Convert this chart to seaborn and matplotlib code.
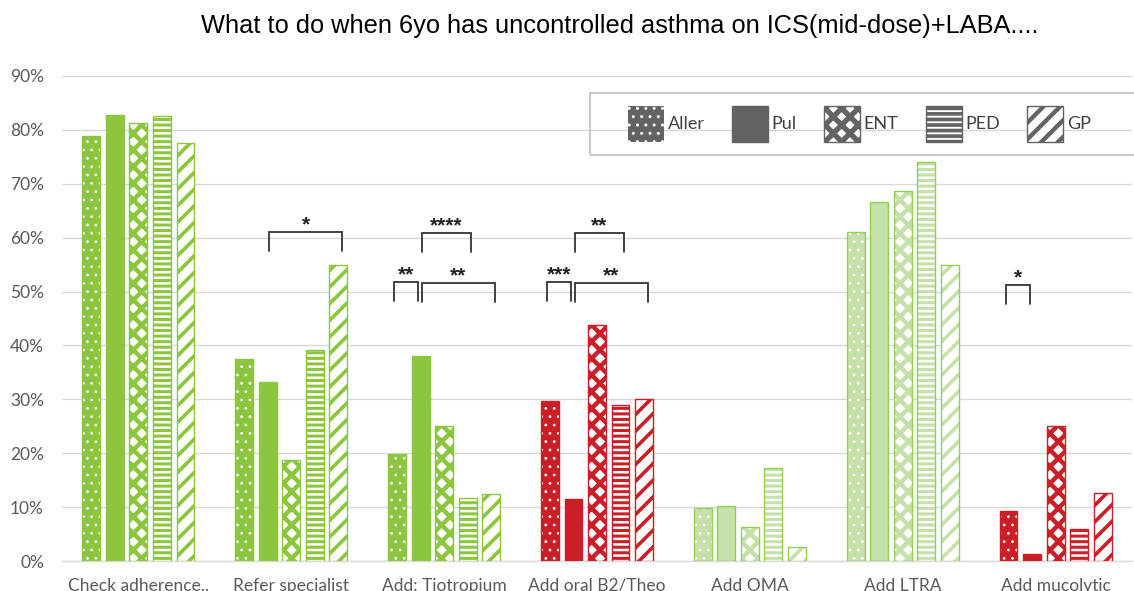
import matplotlib
matplotlib.use("Agg")
import matplotlib.pyplot as plt
import matplotlib.patches as mpatches
import seaborn as sns
import pandas as pd

# ---------------- data ----------------
categories = ["Check adherence..", "Refer specialist", "Add: Tiotropium",
              "Add oral B2/Theo", "Add OMA", "Add LTRA", "Add mucolytic"]
groups = ["Aller", "Pul", "ENT", "PED", "GP"]

aller = [78.8, 37.5, 19.8, 29.6, 9.8, 61.0, 9.2]
pul   = [82.7, 33.3, 38.0, 11.5, 10.2, 66.7, 1.3]
ent   = [81.2, 18.8, 25.0, 43.8, 6.3, 68.7, 25.1]
ped   = [82.6, 39.1, 11.6, 29.0, 17.3, 74.0, 5.9]
gp    = [77.5, 55.0, 12.5, 30.0, 2.6, 55.0, 12.6]

title = "What to do when 6yo has uncontrolled asthma on ICS(mid-dose)+LABA...."

# significance brackets: (category index, group a, group b, height %, label)
brackets = [
    (1, "Pul", "GP", 61.0, "*"),
    (2, "Pul", "PED", 60.8, "****"),
    (2, "Aller", "Pul", 51.8, "**"),
    (2, "Pul", "GP", 51.6, "**"),
    (3, "Pul", "PED", 60.8, "**"),
    (3, "Aller", "Pul", 51.8, "***"),
    (3, "Pul", "GP", 51.6, "**"),
    (6, "Aller", "Pul", 51.2, "*"),
]

# ---------------- styles ----------------
GREEN = "#8CC63F"
RED = "#CC1E26"
LGREEN = "#C5E0A8"
LEDGE = "#92D050"
cat_fill = [GREEN, GREEN, GREEN, RED, LGREEN, LGREEN, RED]
cat_edge = [GREEN, GREEN, GREEN, RED, LEDGE, LEDGE, RED]
group_hatch = {"Aller": "..", "Pul": None, "ENT": "xx", "PED": "---", "GP": "//"}
hatch_lw = {"Aller": 0.8, "Pul": 1.0, "ENT": 3.2, "PED": 2.2, "GP": 2.6}

TICK_FONT = ["Lato", "DejaVu Sans"]
TITLE_FONT = ["Liberation Sans", "DejaVu Sans"]

sns.set_theme(style="white")
plt.rcParams["font.family"] = TICK_FONT
plt.rcParams["hatch.linewidth"] = 2.4

vals = {"Aller": aller, "Pul": pul, "ENT": ent, "PED": ped, "GP": gp}
rows = []
for g in groups:
    for c, v in zip(categories, vals[g]):
        rows.append({"category": c, "group": g, "value": v / 100.0})
df = pd.DataFrame(rows)

fig = plt.figure(figsize=(11.34, 5.91), dpi=100)
ax = fig.add_axes([62 / 1134, 30 / 591, (1132 - 62) / 1134, (561 - 76) / 591])

sns.barplot(data=df, x="category", y="value", hue="group", order=categories,
            hue_order=groups, width=0.77, gap=0.24, ax=ax, legend=False,
            errorbar=None, saturation=1)

ax.set_ylim(0, 0.9)
ax.set_xlim(-0.5, len(categories) - 0.5)


def set_hlw(p, lw):
    if hasattr(p, "set_hatch_linewidth"):
        p.set_hatch_linewidth(lw)
    else:
        p._hatch_linewidth = lw
    return p


def hatch_rect(xy, w, h, hatch, color, lw):
    with plt.rc_context({"hatch.linewidth": lw}):
        r = mpatches.Rectangle(xy, w, h, fill=False, hatch=hatch,
                               edgecolor=color, linewidth=0, zorder=3.5)
    return set_hlw(r, lw)


bar_pos = {}
for gi, (g, cont) in enumerate(zip(groups, ax.containers)):
    h = group_hatch[g]
    for ci, bar in enumerate(cont.patches):
        fc, ec = cat_fill[ci], cat_edge[ci]
        bar.set_zorder(3)
        xy, w, hh = bar.get_xy(), bar.get_width(), bar.get_height()
        if h is None:
            bar.set_facecolor(fc)
            bar.set_edgecolor(ec)
            bar.set_linewidth(1.0)
        else:
            bar.set_linewidth(0)
            if g == "Aller":
                bar.set_facecolor(fc)
                ax.add_patch(hatch_rect(xy, w, hh, h, "white", hatch_lw[g]))
            else:
                bar.set_facecolor("white")
                ax.add_patch(hatch_rect(xy, w, hh, h, fc, hatch_lw[g]))
            ax.add_patch(mpatches.Rectangle(xy, w, hh, fill=False,
                                            edgecolor=ec, linewidth=1.0,
                                            zorder=4))
        bar_pos[(ci, g)] = (bar.get_x() + w / 2, w)

# brackets
for ci, ga, gb, top, lab in brackets:
    xa, w = bar_pos[(ci, ga)]
    xb, _ = bar_pos[(ci, gb)]
    x1 = xa - 0.15 * w if ga != "Pul" else xa + 0.08 * w
    x2 = xb + 0.2 * w if gb != "Pul" else xb - 0.12 * w
    y1 = top / 100.0
    y0 = y1 - 0.035
    ax.plot([x1, x1, x2, x2], [y0, y1, y1, y0], color="#333333", lw=1.3,
            zorder=5, solid_joinstyle="miter")
    ax.text((x1 + x2) / 2, y1 + 0.003, lab, ha="center", va="baseline",
            fontsize=15, fontweight="bold", color="#222222",
            family=TITLE_FONT, zorder=5)

# axes styling
ax.yaxis.set_major_locator(matplotlib.ticker.MultipleLocator(0.1))
ax.yaxis.set_major_formatter(matplotlib.ticker.PercentFormatter(1.0, decimals=0))
ax.grid(axis="y", color="#D9D9D9", lw=1.0, zorder=0)
ax.set_axisbelow(True)
for s in ["top", "right", "left"]:
    ax.spines[s].set_visible(False)
ax.spines["bottom"].set_color("#D9D9D9")
ax.spines["bottom"].set_linewidth(1.0)
ax.tick_params(axis="y", length=0, pad=13, labelsize=12.5, labelcolor="#595959")
ax.tick_params(axis="x", length=0, pad=12, labelsize=12.5, labelcolor="#595959")
ax.set_xlabel("")
ax.set_ylabel("")

# title
fig.text(620 / 1134, 1 - 33.3 / 591, title, ha="center", va="baseline",
         fontsize=18.3, family=TITLE_FONT, color="#000000")

# legend
fig.patches.append(mpatches.Rectangle((590 / 1134, 1 - 155 / 591),
                                      0.5, 62 / 591, transform=fig.transFigure,
                                      fill=False, edgecolor="#BFBFBF",
                                      linewidth=1.2))
DARK = "#636363"
handles = []
for g in groups:
    h = group_hatch[g]
    if h is None:
        p = mpatches.Patch(facecolor=DARK, edgecolor=DARK, label=g)
    elif g == "Aller":
        p = mpatches.Patch(facecolor=DARK, edgecolor="white",
                           hatch=h, lw=0, label=g)
    else:
        p = mpatches.Patch(facecolor="white", edgecolor=DARK,
                           hatch=h, label=g)
    handles.append(p)
leg = fig.legend(handles=handles, loc="center left",
                 bbox_to_anchor=(612 / 1134, 1 - 124 / 591), ncol=5,
                 frameon=False, handlelength=2.0, handleheight=2.7,
                 handletextpad=0.2, columnspacing=1.5, fontsize=13,
                 labelcolor="#404040")
for g, p in zip(groups, leg.get_patches()):
    set_hlw(p, hatch_lw[g] * 1.2)

fig.savefig("out.png", dpi=100)
